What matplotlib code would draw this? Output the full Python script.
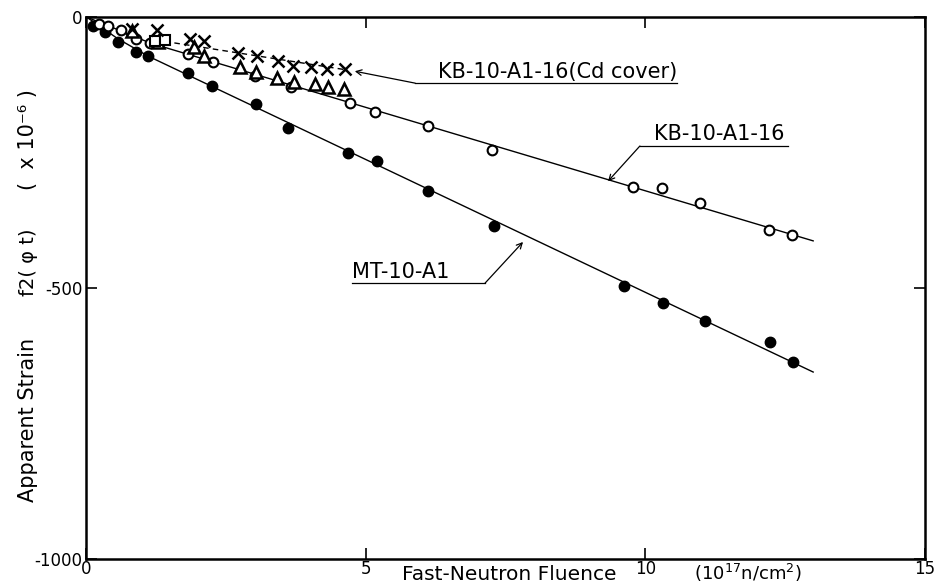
import numpy as np
import matplotlib
matplotlib.use('Agg')
import matplotlib.pyplot as plt

plt.rcParams['font.family'] = ['DejaVu Sans']

# MT-10-A1 (filled circles)
mt_x = [0.12, 0.33, 0.56, 0.89, 1.10, 1.82, 2.25, 3.03, 3.60, 4.68, 5.20, 6.11,
        7.29, 9.62, 10.31, 11.07, 12.23, 12.64]
mt_y = [-17, -28, -46, -65, -72, -103, -127, -161, -205, -251, -266, -321,
        -386, -496, -528, -561, -600, -637]
mt_line_x = [0.0, 0.56, 1.10, 13.0]
mt_line_y = [0, -40, -72, -655]

# KB-10-A1-16 (open circles)
kb_x = [0.22, 0.38, 0.62, 0.89, 1.14, 1.82, 2.26, 3.01, 3.66, 4.71, 5.16, 6.11,
        7.25, 9.78, 10.30, 10.97, 12.21, 12.62]
kb_y = [-13, -17, -24, -41, -48, -68, -83, -109, -129, -159, -175, -201,
        -245, -314, -316, -343, -393, -402]
kb_line_x = [0.0, 0.6, 1.14, 13.0]
kb_line_y = [0, -25, -48, -413]

# KB-10-A1-16 (Cd cover) crosses
cd_x = [0.81, 1.26, 1.85, 2.10, 2.71, 3.05, 3.43, 3.69, 4.02, 4.30, 4.62]
cd_y = [-22, -24, -41, -44, -67, -71, -82, -91, -93, -96, -96]
cd_line_x = [1.4, 4.62]
cd_line_y = [-45, -97]

# triangles
tri_x = [0.81, 1.28, 1.92, 2.10, 2.75, 3.03, 3.41, 3.71, 4.08, 4.32, 4.61]
tri_y = [-26, -46, -55, -72, -92, -101, -113, -119, -124, -129, -133]

# squares
sq_x = [1.22, 1.40]
sq_y = [-44, -42]

fig = plt.figure(figsize=(9.36, 5.85), dpi=100)
ax = fig.add_axes([0.0924, 0.0444, 0.8958, 0.9265])

ax.plot(mt_line_x, mt_line_y, color='black', lw=1.0)
ax.plot(kb_line_x, kb_line_y, color='black', lw=1.0)
ax.plot(cd_line_x, cd_line_y, color='black', lw=1.0, ls=(0, (4, 3)))

ax.plot(mt_x, mt_y, 'o', color='black', ms=7.5)
ax.plot(kb_x, kb_y, 'o', mfc='white', mec='black', mew=1.5, ms=7)
ax.plot(tri_x, tri_y, '^', mfc='white', mec='black', mew=1.8, ms=8)
ax.plot(sq_x, sq_y, 's', mfc='white', mec='black', mew=1.5, ms=6.5)
ax.plot(cd_x, cd_y, 'x', color='black', mew=1.8, ms=8)

# leaders and labels
arrow = dict(arrowstyle='->', lw=0.9, color='black', shrinkA=0, shrinkB=0)

ax.plot([5.88, 10.56], [-122, -122], color='black', lw=0.9)
ax.annotate('', xy=(4.80, -100), xytext=(5.88, -122), arrowprops=arrow)
ax.text(6.29, -119, 'KB-10-A1-16(Cd cover)', fontsize=15, va='bottom', ha='left')

ax.plot([9.90, 12.55], [-238, -238], color='black', lw=0.9)
ax.annotate('', xy=(9.33, -303), xytext=(9.90, -238), arrowprops=arrow)
ax.text(10.15, -235, 'KB-10-A1-16', fontsize=15, va='bottom', ha='left')

ax.plot([4.75, 7.13], [-491, -491], color='black', lw=0.9)
ax.annotate('', xy=(7.81, -415), xytext=(7.13, -491), arrowprops=arrow)
ax.text(4.75, -488, 'MT-10-A1', fontsize=15, va='bottom', ha='left')

ax.set_xlim(0, 15)
ax.set_ylim(-1000, 0)
ax.set_xticks([0, 5, 10, 15])
ax.set_yticks([0, -500, -1000])
ax.set_yticklabels(['0', '-500', '-1000'])
ax.tick_params(direction='in', length=8, width=1.2, labelsize=12, pad=3)
ax.tick_params(axis='x', top=True, pad=1)
ax.tick_params(axis='y', right=True)
for s in ax.spines.values():
    s.set_linewidth(1.8)

# x label (split in two as in the original lettering)
fig.text(402 / 936, 0.002, 'Fast-Neutron Fluence', fontsize=14.5, ha='left', va='bottom')
fig.text(694 / 936, 0.002, '(10$^{17}$n/cm$^{2}$)', fontsize=13, ha='left', va='bottom')

# y label
fig.text(28 / 936, 1 - 420 / 585, 'Apparent Strain', fontsize=15, rotation=90,
         ha='center', va='center')
fig.text(28 / 936, 1 - 262 / 585, 'f2( φ t)', fontsize=14, rotation=90,
         ha='center', va='center')
fig.text(28 / 936, 1 - 140 / 585, '(  x 10⁻⁶ )', fontsize=15, rotation=90,
         ha='center', va='center')

fig.savefig('out.png', dpi=100)
